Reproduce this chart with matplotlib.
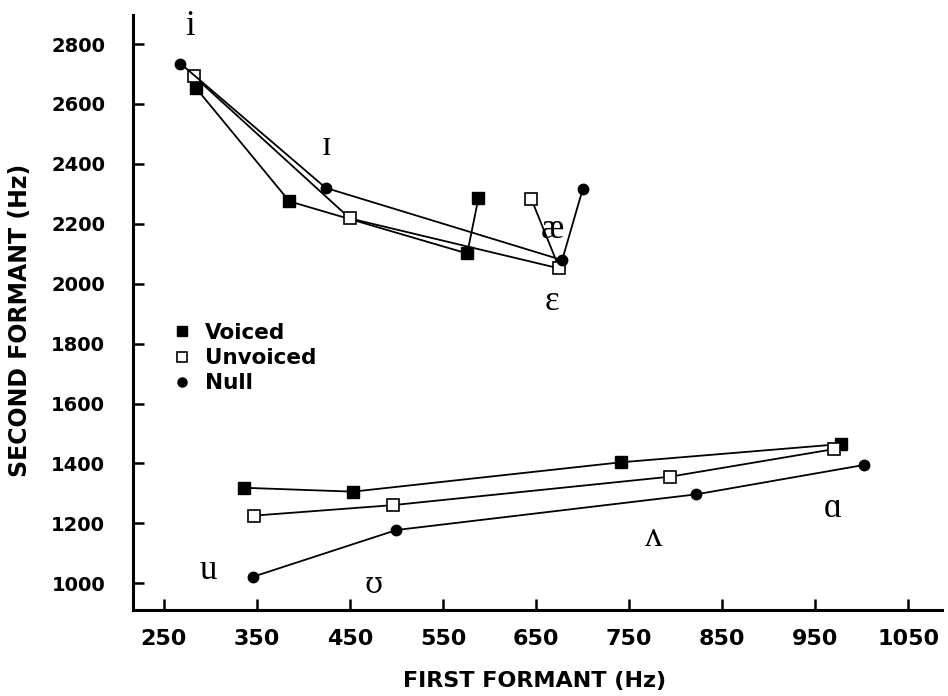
import matplotlib
matplotlib.use("Agg")
import matplotlib.pyplot as plt
from matplotlib.lines import Line2D

# vowel order: front set then back set
vowels = ['i', 'ɪ', 'ɛ', 'æ', 'u', 'ʊ', 'ʌ', 'ɑ']

voiced_f1 = [285, 385, 576, 588, 336, 453, 741, 978]
voiced_f2 = [2652, 2275, 2101, 2285, 1319, 1306, 1404, 1465]

unvoiced_f1 = [282, 450, 675, 645, 347, 496, 794, 970]
unvoiced_f2 = [2694, 2218, 2051, 2282, 1226, 1261, 1356, 1448]

null_f1 = [268, 424, 678, 700, 346, 500, 822, 1002]
null_f2 = [2735, 2320, 2079, 2315, 1022, 1178, 1297, 1395]

x_ticks = [250, 350, 450, 550, 650, 750, 850, 950, 1050]
y_ticks = [1000, 1200, 1400, 1600, 1800, 2000, 2200, 2400, 2600, 2800]

# where the vowel symbols sit (baseline, data coords)
label_f1 = [278, 425, 667, 667, 298, 475, 776, 969]
label_f2 = [2829, 2429, 1912, 2151, 1013, 969, 1124, 1222]

fig = plt.figure(figsize=(9.48, 6.96), dpi=100)
ax = fig.add_axes([133 / 948, 86 / 696, 809 / 948, 595 / 696])

styles = [
    (voiced_f1, voiced_f2, dict(marker='s', ms=8, mfc='black', mec='black')),
    (unvoiced_f1, unvoiced_f2, dict(marker='s', ms=9, mfc='white', mec='black', mew=1.2)),
    (null_f1, null_f2, dict(marker='o', ms=7.5, mfc='black', mec='black')),
]
for f1, f2, st in styles:
    ax.plot(f1[:4], f2[:4], color='black', lw=1.3, **st)
    ax.plot(f1[4:], f2[4:], color='black', lw=1.3, **st)

serif = ['Liberation Serif', 'DejaVu Serif']
for v, x, y in zip(vowels, label_f1, label_f2):
    fam = ['DejaVu Serif'] if v == 'ʊ' else serif
    size = 21 if v == 'ʊ' else 25
    ax.text(x, y, v, ha='center', va='baseline', fontsize=size, family=fam)

ax.set_xlim(217, 1086)
ax.set_ylim(911, 2897)
ax.set_xticks(x_ticks)
ax.set_yticks(y_ticks)

for side in ['top', 'right']:
    ax.spines[side].set_visible(False)
for side in ['left', 'bottom']:
    ax.spines[side].set_linewidth(2.2)

ax.tick_params(axis='both', direction='in', length=8, width=1.8)
ax.tick_params(axis='x', pad=14, labelsize=16)
ax.tick_params(axis='y', pad=20, labelsize=14)
for lab in ax.get_xticklabels() + ax.get_yticklabels():
    lab.set_fontweight('bold')

fig.text(535 / 948, 1 - 681 / 696, 'FIRST FORMANT (Hz)', ha='center', va='center',
         fontsize=16, fontweight='bold')
fig.text(20 / 948, 1 - 320 / 696, 'SECOND FORMANT (Hz)', ha='center', va='center',
         rotation=90, fontsize=17, fontweight='bold')

handles = [
    Line2D([], [], ls='none', marker='s', ms=7, mfc='black', mec='black'),
    Line2D([], [], ls='none', marker='s', ms=7, mfc='white', mec='black', mew=1.2),
    Line2D([], [], ls='none', marker='o', ms=6.5, mfc='black', mec='black'),
]
ax.legend(handles, ['Voiced', 'Unvoiced', 'Null'], loc='upper left',
          bbox_to_anchor=(0.037, 0.501), frameon=False, borderpad=0,
          handlelength=0.8, handletextpad=0.67, labelspacing=0.25,
          prop=dict(size=15.5, weight='bold'))

fig.savefig('out.png', dpi=100, facecolor='white')
